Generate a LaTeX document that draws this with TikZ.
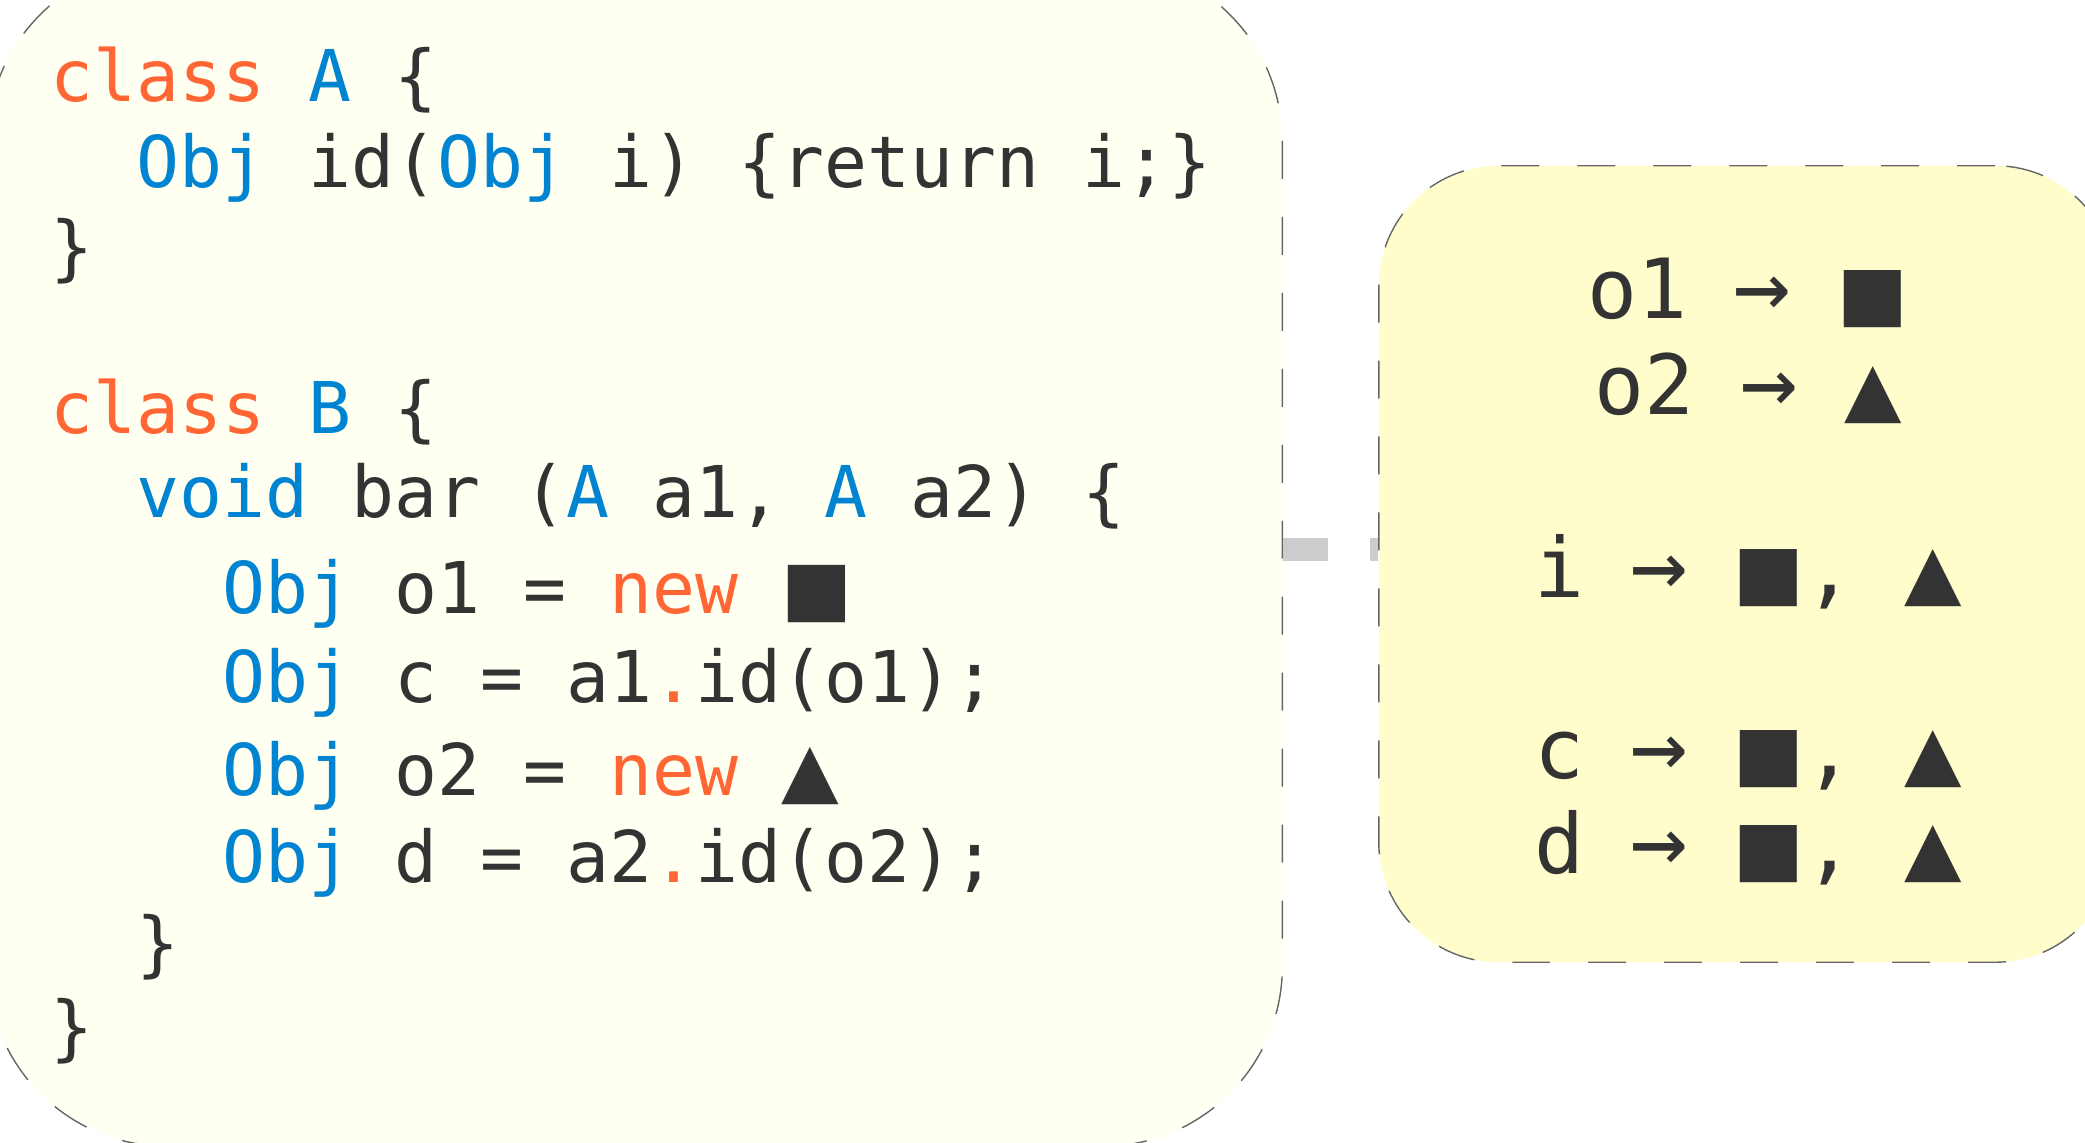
\documentclass[tikz,border=0pt]{standalone}
\usepackage{fontspec}
\setmonofont{DejaVu Sans Mono}
\newfontfamily\shapefont{DejaVu Sans}
\definecolor{codeink}{HTML}{333333}
\definecolor{kwred}{HTML}{FF6633}
\definecolor{tyblue}{HTML}{0084D1}
\definecolor{codebg}{HTML}{FFFFF2}
\definecolor{ptsbg}{HTML}{FFFDCC}
\definecolor{linkgray}{HTML}{CCCCCC}
\definecolor{edgegray}{HTML}{666666}
\newcommand\kw[1]{\textcolor{kwred}{#1}}
\newcommand\ty[1]{\textcolor{tyblue}{#1}}
\newcommand\sq[1]{\scalebox{#1}{\shapefont ■}}
\newcommand\tri[1]{\scalebox{#1}{\shapefont ▲}}
\newcommand\arr{\makebox[0.602em]{\scalebox{1.15}{→}}}
\begin{document}
\begin{tikzpicture}[x=0.01cm,y=-0.01cm,
  codeline/.style={anchor=base west,inner sep=0pt,text=codeink,font=\ttfamily\fontsize{20.3pt}{24pt}\selectfont},
  ptsline/.style={anchor=base,inner sep=0pt,text=codeink,font=\ttfamily\fontsize{23.6pt}{28pt}\selectfont},
  dashbox/.style={draw=edgegray,line width=0.4pt,dash pattern=on 10.8pt off 10.8pt}]
\useasboundingbox (0,0) rectangle (2085,1143);
\node[dashbox,fill=codebg,rounded corners=1.8cm,minimum width=12.94cm,minimum height=11.84cm] at (635,554) (code) {};
\node[dashbox,fill=ptsbg,rounded corners=1.2cm,minimum width=7.36cm,minimum height=7.96cm] at (1747,564) (pts) {};
\coordinate (linky) at (0,549.5);
\draw[linkgray,line width=6.5pt,dash pattern=on 12.8pt off 12pt] (code.east |- linky) -- (pts.west |- linky);
\node[codeline] at (50,102) (l1) {\kw{class} \ty{A} \{};
\node[codeline] at (50,188) (l2) {\phantom{xx}\ty{Obj} id(\ty{Obj} i) \{return i;\}};
\node[codeline] at (50,273) (l3) {\}};
\node[codeline] at (50,433) (l5) {\kw{class} \ty{B} \{};
\node[codeline] at (50,518) (l6) {\phantom{xx}\ty{void} bar (\ty{A} a1, \ty{A} a2) \{};
\node[codeline] at (50,613) (l7) {\phantom{xxxx}\ty{Obj} o1 = \kw{new} \sq{1.05}};
\node[codeline] at (50,702) (l8) {\phantom{xxxx}\ty{Obj} c = a1\kw{.}id(o1);};
\node[codeline] at (50,795) (l9) {\phantom{xxxx}\ty{Obj} o2 = \kw{new} \tri{1.05}};
\node[codeline] at (50,882) (l10) {\phantom{xxxx}\ty{Obj} d = a2\kw{.}id(o2);};
\node[codeline] at (50,968) (l11) {\phantom{xx}\}};
\node[codeline] at (50,1052) (l12) {\}};
\node[ptsline] at (1748,319) (ro1) {o1 \arr{} \sq{0.9}};
\node[ptsline] at (1748,415) (ro2) {o2 \arr{} \tri{0.9}};
\node[ptsline] at (1748,597) (ri) {i \arr{} \sq{0.9}, \tri{0.9}};
\node[ptsline] at (1748,778) (rc) {c \arr{} \sq{0.9}, \tri{0.9}};
\node[ptsline] at (1748,873) (rd) {d \arr{} \sq{0.9}, \tri{0.9}};
\end{tikzpicture}
\end{document}
